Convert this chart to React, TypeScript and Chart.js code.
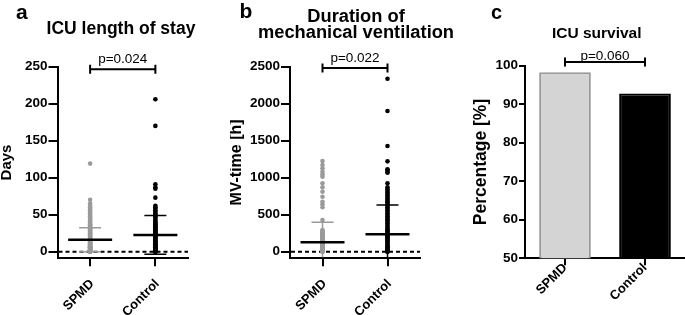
import React, { useEffect, useRef } from 'react';
import { Chart, registerables } from 'chart.js';

Chart.register(...registerables);

const FONT = '"Liberation Sans", Arial, Helvetica, sans-serif';
Chart.defaults.font.family = FONT;
Chart.defaults.color = '#000';

const categories = ['SPMD', 'Control'];

// Panel a: ICU length of stay (days)
const losSPMD = [0, 0, 0, 1, 1, 1, 1, 2, 2, 2, 2, 3, 3, 3, 3, 4, 4, 4, 5, 5, 5, 6, 6, 6, 7, 7, 7, 8, 8, 9, 9, 10, 10, 11, 11, 12, 12, 13, 14, 15, 16, 17, 18, 19, 20, 21, 22, 23, 24, 25, 26, 27, 28, 29, 30, 31, 32, 33, 34, 35, 36, 37, 38, 40, 41, 43, 44, 46, 48, 50, 52, 54, 56, 58, 60, 62, 65, 70, 119];
const losControl = [0, 0, 0, 1, 1, 1, 1, 2, 2, 2, 2, 3, 3, 3, 4, 4, 4, 5, 5, 5, 6, 6, 7, 7, 8, 8, 9, 9, 10, 10, 11, 12, 13, 14, 15, 16, 17, 18, 19, 20, 21, 22, 23, 24, 25, 26, 27, 28, 29, 30, 31, 32, 33, 34, 35, 36, 37, 38, 39, 40, 42, 44, 46, 48, 50, 52, 54, 56, 58, 60, 62, 73, 85, 87, 91, 170, 206];
const losMean = [16, 22.6];
const losSD = [16.3, 26.2];
const losTicks = [0, 50, 100, 150, 200, 250];
const losMin = -9;
const losMax = 250;

// Panel b: duration of mechanical ventilation (hours)
const mvSPMD = [0, 0, 5, 10, 15, 20, 25, 30, 35, 40, 45, 50, 55, 60, 65, 70, 75, 80, 90, 100, 110, 120, 130, 140, 150, 160, 170, 180, 190, 200, 210, 220, 230, 240, 250, 260, 270, 280, 293, 428, 600, 640, 676, 743, 811, 870, 924, 1014, 1046, 1081, 1127, 1172, 1226];
const mvControl = [0, 0, 10, 20, 30, 40, 50, 60, 75, 90, 105, 120, 135, 150, 165, 180, 195, 210, 225, 240, 255, 270, 285, 300, 320, 340, 360, 380, 400, 420, 440, 460, 480, 500, 520, 540, 560, 580, 600, 620, 640, 660, 680, 700, 720, 740, 760, 780, 800, 820, 843, 870, 924, 1068, 1081, 1104, 1115, 1221, 1428, 1901, 2338];
const mvMean = [127, 235];
const mvSD = [270, 396];
const mvTicks = [0, 500, 1000, 1500, 2000, 2500];
const mvMin = -89;
const mvMax = 2500;

// Panel c: ICU survival (%)
const survival = [98.3, 92.8];
const survivalTicks = [50, 60, 70, 80, 90, 100];

const pValues = ['p=0.024', 'p=0.022', 'p=0.060'];

const GRAY = '#9a9a9a';
const BLACK = '#000000';
const H = 315;

type Decor = {
  letter: string; letterX: number; letterY: number; letterSize: number;
  title: string[]; titleX: number; titleY: number[]; titleSize: number;
  p: string; bracketDy: number; pGap: number;
  zeroLine?: boolean;
  mean?: number[]; sd?: number[];
};

function makeDecor(d: Decor) {
  return {
    id: 'decor',
    beforeDatasetsDraw(chart: any) {
      if (!d.zeroLine) return;
      const { ctx, chartArea, scales } = chart;
      const y = scales.y.getPixelForValue(0);
      ctx.save();
      ctx.strokeStyle = BLACK;
      ctx.lineWidth = 2;
      ctx.setLineDash([4, 3]);
      ctx.beginPath();
      ctx.moveTo(chartArea.left + 1, y);
      ctx.lineTo(chartArea.right, y);
      ctx.stroke();
      ctx.restore();
    },
    afterDatasetsDraw(chart: any) {
      if (!d.mean || !d.sd) return;
      const { ctx, chartArea, scales } = chart;
      ctx.save();
      ctx.beginPath();
      ctx.rect(chartArea.left, chartArea.top, chartArea.right - chartArea.left, chartArea.bottom - chartArea.top - 1);
      ctx.clip();
      d.mean.forEach((m, i) => {
        const x = scales.x.getPixelForValue(i);
        const ym = scales.y.getPixelForValue(m);
        const yu = scales.y.getPixelForValue(m + d.sd![i]);
        const yl = scales.y.getPixelForValue(m - d.sd![i]);
        ctx.strokeStyle = i === 0 ? GRAY : BLACK;
        ctx.lineWidth = 1.5;
        ctx.beginPath();
        ctx.moveTo(x, yl); ctx.lineTo(x, yu);
        ctx.moveTo(x - 11, yu); ctx.lineTo(x + 11, yu);
        ctx.moveTo(x - 11, yl); ctx.lineTo(x + 11, yl);
        ctx.stroke();
        ctx.strokeStyle = BLACK;
        ctx.lineWidth = 2.5;
        ctx.beginPath();
        ctx.moveTo(x - 22, ym); ctx.lineTo(x + 22, ym);
        ctx.stroke();
      });
      ctx.restore();
    },
    afterDraw(chart: any) {
      const { ctx, chartArea, scales } = chart;
      ctx.save();
      ctx.fillStyle = BLACK;
      ctx.textBaseline = 'alphabetic';
      ctx.textAlign = 'left';
      ctx.font = `bold ${d.letterSize}px ${FONT}`;
      ctx.fillText(d.letter, d.letterX, d.letterY);
      ctx.textAlign = 'center';
      ctx.font = `bold ${d.titleSize}px ${FONT}`;
      d.title.forEach((t, i) => ctx.fillText(t, d.titleX, d.titleY[i]));
      const x0 = scales.x.getPixelForValue(0);
      const x1 = scales.x.getPixelForValue(1);
      const by = chartArea.top + d.bracketDy;
      ctx.strokeStyle = BLACK;
      ctx.lineWidth = 2;
      ctx.beginPath();
      ctx.moveTo(x0, by); ctx.lineTo(x1, by);
      ctx.moveTo(x0, by - 4.5); ctx.lineTo(x0, by + 4.5);
      ctx.moveTo(x1, by - 4.5); ctx.lineTo(x1, by + 4.5);
      ctx.stroke();
      ctx.font = `13.5px ${FONT}`;
      ctx.fillText(d.p, (x0 + x1) / 2, by - d.pGap);
      ctx.restore();
    },
  };
}

function axisX(bottom: number, tickLen: number, pad: number, labelOffset: number) {
  return {
    type: 'category',
    offset: true,
    grid: { offset: false, display: true, drawOnChartArea: false, drawTicks: true, tickLength: tickLen, lineWidth: 2, color: BLACK },
    border: { display: true, color: BLACK, width: 2 },
    ticks: { minRotation: 45, maxRotation: 45, color: BLACK, padding: pad, labelOffset, font: { size: 13, weight: 'bold' } },
    afterFit: (s: any) => { s.height = H - bottom; },
  };
}

function axisY(min: number, max: number, ticks: number[], width: number, tickLen: number, title: string, titleSize: number, titlePad: number) {
  return {
    min, max,
    afterBuildTicks: (s: any) => { s.ticks = ticks.map((v) => ({ value: v })); },
    grid: { display: true, drawOnChartArea: false, drawTicks: true, tickLength: tickLen, lineWidth: 2, color: BLACK },
    border: { display: true, color: BLACK, width: 2 },
    ticks: { color: BLACK, padding: 1, font: { size: 13.5, weight: 'bold' }, callback: (v: any) => String(v) },
    title: { display: true, text: title, color: BLACK, font: { size: titleSize, weight: 'bold' }, padding: { top: titlePad, bottom: 0 } },
    afterFit: (s: any) => { s.width = width; },
  };
}

function dots(values: number[], cat: string, color: string) {
  return {
    data: values.map((v) => ({ x: cat, y: v })),
    backgroundColor: color,
    borderWidth: 0,
    pointRadius: 2.3,
    pointHoverRadius: 2.3,
  };
}

const baseOpts = {
  animation: false,
  responsive: false,
  events: [],
  plugins: { legend: { display: false }, tooltip: { enabled: false }, title: { display: false } },
};

export default function App() {
  const ra = useRef<HTMLCanvasElement>(null);
  const rb = useRef<HTMLCanvasElement>(null);
  const rc = useRef<HTMLCanvasElement>(null);

  useEffect(() => {
    const charts: Chart[] = [];
    charts.push(new Chart(ra.current!, {
      type: 'scatter',
      data: { labels: categories, datasets: [dots(losSPMD, categories[0], GRAY), dots(losControl, categories[1], BLACK)] } as any,
      options: {
        ...baseOpts,
        layout: { padding: { top: 66.7, right: 42, bottom: 0, left: 0 } },
        scales: { x: axisX(258.3, 8, 10, 2), y: axisY(losMin, losMax, losTicks, 57.5, 9, 'Days', 15, -2) },
      } as any,
      plugins: [makeDecor({
        letter: 'a', letterX: 16, letterY: 18.5, letterSize: 21,
        title: ['ICU length of stay'], titleX: 121, titleY: [33.5], titleSize: 17.5,
        p: pValues[0], bracketDy: 2.6, pGap: 6.6, zeroLine: true, mean: losMean, sd: losSD,
      })],
    }));
    charts.push(new Chart(rb.current!, {
      type: 'scatter',
      data: { labels: categories, datasets: [dots(mvSPMD, categories[0], GRAY), dots(mvControl, categories[1], BLACK)] } as any,
      options: {
        ...baseOpts,
        layout: { padding: { top: 66.7, right: 40, bottom: 0, left: 0 } },
        scales: { x: axisX(258.3, 8, 10, 2), y: axisY(mvMin, mvMax, mvTicks, 60, 9, 'MV-time [h]', 16, -3) },
      } as any,
      plugins: [makeDecor({
        letter: 'b', letterX: 9.5, letterY: 18.3, letterSize: 21,
        title: ['Duration of', 'mechanical ventilation'], titleX: 126, titleY: [21.7, 37.5], titleSize: 18.3,
        p: pValues[1], bracketDy: 1.2, pGap: 6.3, zeroLine: true, mean: mvMean, sd: mvSD,
      })],
    }));
    charts.push(new Chart(rc.current!, {
      type: 'bar',
      data: {
        labels: categories,
        datasets: [{
          data: survival,
          backgroundColor: ['#d4d4d4', BLACK],
          borderColor: ['#999999', BLACK],
          borderWidth: 2,
          barPercentage: 0.646,
          categoryPercentage: 1,
        }],
      } as any,
      options: {
        ...baseOpts,
        layout: { padding: { top: 65.7, right: 0, bottom: 0, left: 0 } },
        scales: { x: axisX(258.3, 7, -5, 0), y: axisY(50, 100, survivalTicks, 70, 6, 'Percentage [%]', 17.5, 16) },
      } as any,
      plugins: [makeDecor({
        letter: 'c', letterX: 36, letterY: 19, letterSize: 20,
        title: ['ICU survival'], titleX: 141.7, titleY: [38], titleSize: 15.5,
        p: pValues[2], bracketDy: -3.7, pGap: 1.8,
      })],
    }));
    return () => { charts.forEach((c) => c.destroy()); };
  }, []);

  const cv = { display: 'block' } as React.CSSProperties;
  return (
    <div style={{ position: 'fixed', left: 0, top: 0, width: 685, height: 315, overflow: 'hidden', background: '#fff' }}>
      <div style={{ position: 'absolute', left: 0, top: 0 }}><canvas ref={ra} width={230} height={315} style={cv} /></div>
      <div style={{ position: 'absolute', left: 230, top: 0 }}><canvas ref={rb} width={230} height={315} style={cv} /></div>
      <div style={{ position: 'absolute', left: 455, top: 0 }}><canvas ref={rc} width={230} height={315} style={cv} /></div>
    </div>
  );
}
